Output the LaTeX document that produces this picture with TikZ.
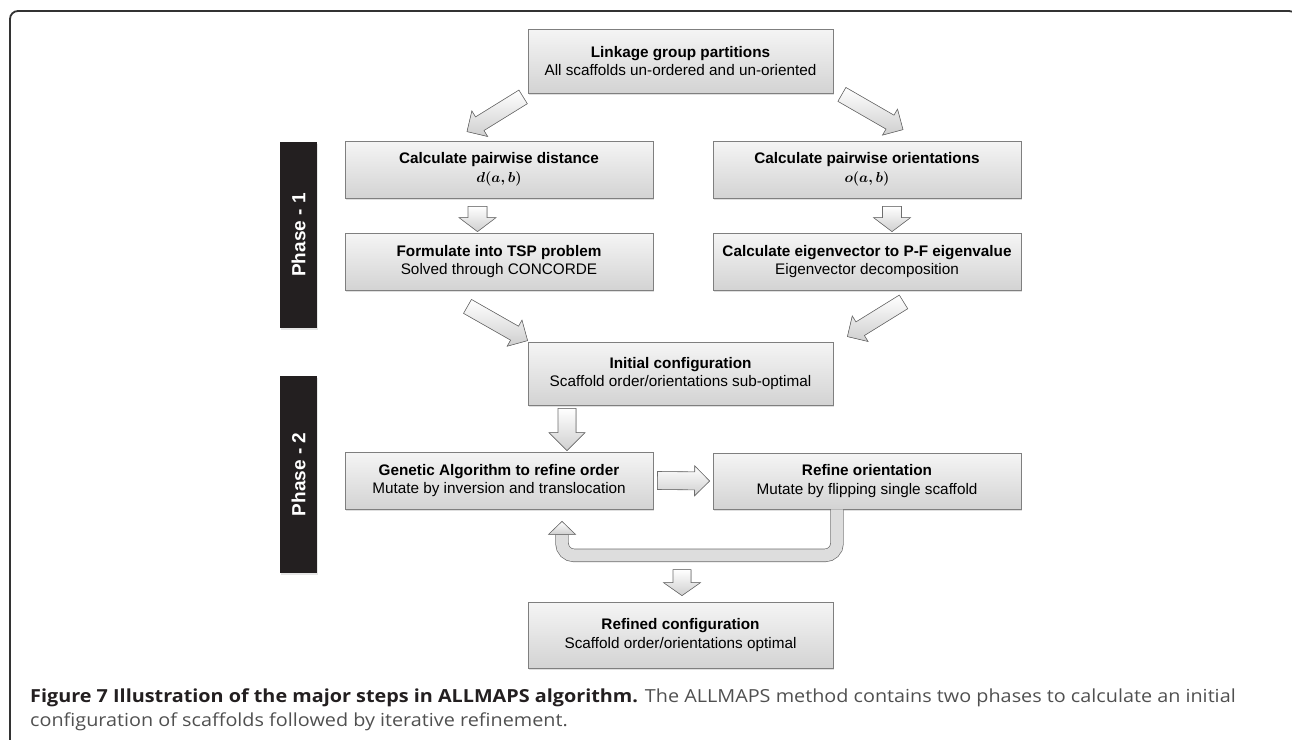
\documentclass[tikz,border=0pt]{standalone}
\usepackage{fontspec}
\setmainfont{Liberation Sans}
\newfontfamily\capfont[FakeStretch=1.1]{Open Sans}
\usepackage{amsmath}
\usetikzlibrary{calc,shadows}

\definecolor{boxline}{HTML}{7F7F7F}
\definecolor{boxtop}{HTML}{F5F5F5}
\definecolor{boxbot}{HTML}{D3D3D3}
\definecolor{arrline}{HTML}{6E6E6E}
\definecolor{arrfill}{HTML}{CFCFCF}
\definecolor{phase}{HTML}{231F20}
\definecolor{captext}{HTML}{505050}

% block arrow: from, to, half shaft, half head, head length
\newcommand{\blockarrow}[5]{%
	\coordinate (ba) at ($(#2)!#5!(#1)$);
	\filldraw[block_arrow] ($(#1)!#3!90:(#2)$) -- ($(ba)!#3!-90:(#1)$) -- ($(ba)!#4!-90:(#1)$) -- (#2)
		-- ($(ba)!#4!90:(#1)$) -- ($(ba)!#3!90:(#1)$) -- ($(#1)!#3!-90:(#2)$) -- cycle;}

\begin{document}
\begin{tikzpicture}[x=1pt,y=-1pt,
	step_box/.style={draw=boxline,line width=0.8pt,top color=boxtop,bottom color=boxbot,align=center,inner sep=0pt,font=\fontsize{15.3}{18.5}\selectfont,drop shadow={shadow xshift=0.6pt,shadow yshift=-1.6pt,opacity=0.25}},
	phase_box/.style={fill=phase,text=white,rotate=90,minimum height=37pt,inner sep=0pt,font=\bfseries\fontsize{19}{19}\selectfont,drop shadow={shadow xshift=1pt,shadow yshift=-1.5pt,opacity=0.2}},
	block_arrow/.style={draw=arrline,line width=0.6pt,top color=white,bottom color=arrfill},
	loop_arrow/.style={draw=arrline,line width=0.7pt,double=arrfill!70,double distance=12pt,rounded corners=12pt}]
		
		\useasboundingbox (0,0) rectangle (1292,739);
		\draw[line width=1.8pt,draw=black!80,rounded corners=8pt] (10,745) -- (10,11) -- (1297,11) -- (1297,745);
		
		\node[step_box,minimum width=305pt,minimum height=64pt] (link) at (680.5,61) {\textbf{Linkage group partitions}\\All scaffolds un-ordered and un-oriented};
		\node[step_box,minimum width=308pt,minimum height=57pt] (pair) at (499,169.5) {\textbf{Calculate pairwise distance}\\$\boldsymbol{d(a,b)}$};
		\node[step_box,minimum width=308pt,minimum height=57pt] (orient) at (867,169.5) {\textbf{Calculate pairwise orientations}\\$\boldsymbol{o(a,b)}$};
		\node[step_box,minimum width=308pt,minimum height=57pt] (tsp) at (499,261.5) {\textbf{Formulate into TSP problem}\\Solved through CONCORDE};
		\node[step_box,minimum width=308pt,minimum height=57pt] (eigen) at (867,261.5) {\textbf{Calculate eigenvector to P-F eigenvalue}\\Eigenvector decomposition};
		\node[step_box,minimum width=305pt,minimum height=63pt] (init) at (680.5,373.5) {\textbf{Initial configuration}\\Scaffold order/orientations sub-optimal};
		\node[step_box,minimum width=308pt,minimum height=57pt] (genetic) at (499,480.5) {\textbf{Genetic Algorithm to refine order}\\Mutate by inversion and translocation};
		\node[step_box,minimum width=308pt,minimum height=56pt] (refine) at (867,481) {\textbf{Refine orientation}\\Mutate by flipping single scaffold};
		\node[step_box,minimum width=305pt,minimum height=66pt] (refined) at (680.5,635) {\textbf{Refined configuration}\\Scaffold order/orientations optimal};
		
		\node[phase_box,minimum width=186pt] (phase1) at (298.5,235) {Phase - 1};
		\node[phase_box,minimum width=197pt] (phase2) at (298.5,474.5) {Phase - 2};
		
		\coordinate (a1s) at ([xshift=-4.5pt,yshift=-3.5pt]link.south west);
		\coordinate (a1t) at ([xshift=-32pt,yshift=9pt]pair.north);
		\coordinate (a2s) at ([xshift=8.5pt,yshift=-1pt]link.south east);
		\coordinate (a2t) at ([xshift=36pt,yshift=11pt]orient.north);
		\coordinate (a3s) at ([xshift=-21.5pt,yshift=-8pt]pair.south);
		\coordinate (a3t) at ([xshift=-21.5pt,yshift=1pt]tsp.north);
		\coordinate (a4s) at ([xshift=25pt,yshift=-8pt]orient.south);
		\coordinate (a4t) at ([xshift=25pt,yshift=1pt]eigen.north);
		\coordinate (a5s) at ([xshift=-31.5pt,yshift=-16pt]tsp.south);
		\coordinate (a5t) at ([yshift=1pt]init.north west);
		\coordinate (a6s) at ([xshift=36.5pt,yshift=-11.5pt]eigen.south);
		\coordinate (a6t) at ([xshift=14pt,yshift=5pt]init.north east);
		\coordinate (a7s) at ([xshift=-113.5pt,yshift=-3pt]init.south);
		\coordinate (a7t) at ([xshift=68pt,yshift=1pt]genetic.north);
		\coordinate (a8s) at ([xshift=4pt]genetic.east);
		\coordinate (a8t) at ([xshift=-3pt]refine.west);
		\coordinate (a9s) at ([xshift=1.5pt,yshift=32pt]refined.north);
		\coordinate (a9t) at ([xshift=1.5pt,yshift=6pt]refined.north);
		
		\blockarrow{a1s}{a1t}{8pt}{15pt}{15pt}
		\blockarrow{a2s}{a2t}{8pt}{15pt}{15pt}
		\blockarrow{a3s}{a3t}{9.5pt}{18.5pt}{14pt}
		\blockarrow{a4s}{a4t}{9.5pt}{18.5pt}{14pt}
		\blockarrow{a5s}{a5t}{8pt}{15pt}{15pt}
		\blockarrow{a6s}{a6t}{8pt}{15pt}{15pt}
		\blockarrow{a7s}{a7t}{9pt}{18pt}{18pt}
		\blockarrow{a8s}{a8t}{9pt}{15pt}{15pt}
		\blockarrow{a9s}{a9t}{9pt}{18.5pt}{13pt}
		
		\coordinate (loophead) at ([xshift=63pt,yshift=-25pt]genetic.south);
		\coordinate (looptip) at ([xshift=63pt,yshift=-12pt]genetic.south);
		\draw[loop_arrow] ([xshift=-30pt]refine.south) -- ++(0,46) -| (loophead);
		\filldraw[block_arrow] ([xshift=-13.5pt]loophead) -- (looptip) -- ([xshift=13.5pt]loophead) -- cycle;
		
		\node[anchor=base west,inner sep=0pt,text=captext,font=\capfont\fontsize{18}{24}\selectfont] (cap1) at (30,702) {\textbf{\color{phase}Figure 7 Illustration of the major steps in ALLMAPS algorithm.} The ALLMAPS method contains two phases to calculate an initial};
		\node[anchor=base west,inner sep=0pt,text=captext,font=\capfont\fontsize{18}{24}\selectfont] (cap2) at (30,726) {configuration of scaffolds followed by iterative refinement.};
		\end{tikzpicture}
\end{document}
